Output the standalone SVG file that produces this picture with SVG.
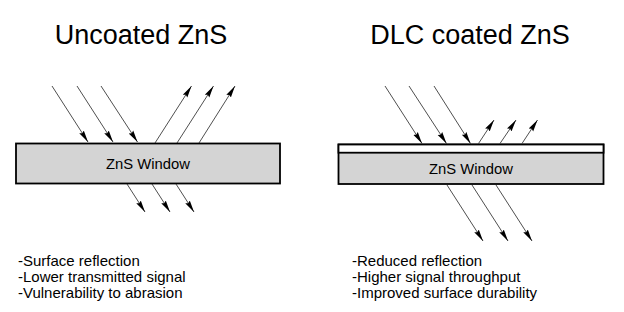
<svg xmlns="http://www.w3.org/2000/svg" width="624" height="312" viewBox="0 0 624 312">
<defs>
<style>
.t{font-family:"Liberation Sans",Arial,sans-serif;fill:#000}
.title{font-size:27px;text-anchor:middle}
.lbl{font-size:14.8px;text-anchor:middle}
.b{font-size:15px}
.ray{stroke:#222;stroke-width:0.8;fill:none;marker-end:url(#ah)}
.win{fill:#d4d4d4;stroke:#000;stroke-width:1.8}
.coat{fill:#fff;stroke:#000;stroke-width:1.8}
</style>
<marker id="ah" markerUnits="userSpaceOnUse" markerWidth="13" markerHeight="7" refX="12" refY="3.5" orient="auto">
<path d="M0,0.8 L12,3.5 L0,6.2 L1.5,3.5 z" fill="#000"/>
</marker>
</defs>
<rect width="624" height="312" fill="#fff"/>
<text class="t title" x="141" y="44">Uncoated ZnS</text>
<text class="t title" x="470" y="44">DLC coated ZnS</text>
<g id="left-window">
<rect class="win" x="16" y="143.5" width="264" height="40"/>
<text class="t lbl" x="148" y="168.5">ZnS Window</text>
</g>
<g id="right-window">
<rect class="win" x="338.5" y="144.5" width="265" height="39.5"/>
<rect class="coat" x="338.5" y="144.5" width="265" height="8.2"/>
<text class="t lbl" x="471" y="174">ZnS Window</text>
</g>
<g id="connectors">
<line class="ray" x1="52" y1="86" x2="88" y2="142"/>
<line class="ray" x1="77" y1="86" x2="113" y2="142"/>
<line class="ray" x1="101" y1="86" x2="137.5" y2="142"/>
<line class="ray" x1="155" y1="143" x2="191.5" y2="86"/>
<line class="ray" x1="177" y1="143" x2="213.5" y2="86"/>
<line class="ray" x1="199" y1="143" x2="235" y2="86"/>
<line class="ray" x1="127" y1="184" x2="145" y2="212"/>
<line class="ray" x1="152" y1="184" x2="170" y2="212"/>
<line class="ray" x1="176" y1="184" x2="194" y2="212"/>
<line class="ray" x1="385" y1="86" x2="422" y2="143.5"/>
<line class="ray" x1="409" y1="86" x2="446.5" y2="143.5"/>
<line class="ray" x1="434" y1="86" x2="470.5" y2="143.5"/>
<line class="ray" x1="478.5" y1="143.5" x2="494" y2="120"/>
<line class="ray" x1="500" y1="143.5" x2="516" y2="120"/>
<line class="ray" x1="522" y1="143.5" x2="537.5" y2="120"/>
<line class="ray" x1="447" y1="185" x2="483" y2="241"/>
<line class="ray" x1="472" y1="185" x2="508" y2="241"/>
<line class="ray" x1="496" y1="185" x2="532" y2="241"/>
</g>
<g id="left-notes">
<text class="t b" x="18" y="266">-Surface reflection</text>
<text class="t b" x="18" y="282">-Lower transmitted signal</text>
<text class="t b" x="18" y="298">-Vulnerability to abrasion</text>
</g>
<g id="right-notes">
<text class="t b" x="352" y="266">-Reduced reflection</text>
<text class="t b" x="352" y="282">-Higher signal throughput</text>
<text class="t b" x="352" y="298">-Improved surface durability</text>
</g>
</svg>
